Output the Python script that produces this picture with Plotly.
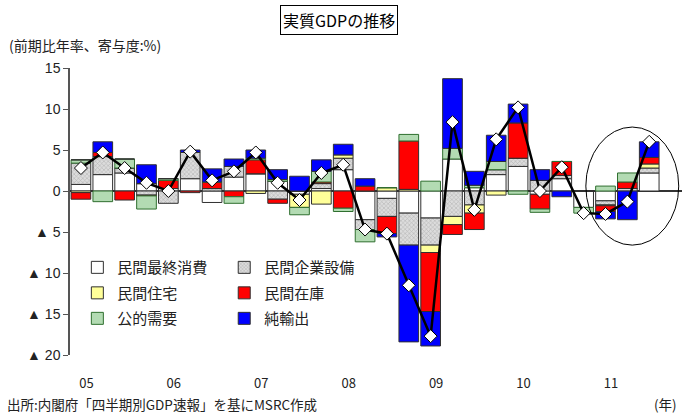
import plotly.graph_objects as go

quarters = list(range(27))  # 2005Q1 .. 2011Q3
year_ticks = [0, 4, 8, 12, 16, 20, 24]
year_labels = ["05", "06", "07", "08", "09", "10", "11"]

cons = [0.8, 2.0, 2.2, 0.9, 0.3, 1.5, -1.4, 1.7, 2.1, 1.2, -0.4, 0.3, 2.6, -3.5,
        -0.9, -2.7, -3.3, 3.9, 0.4, 2.0, 3.0, -0.4, 1.5, -2.0, -1.2, 0.3, 2.2]
capex = [2.6, 2.2, 0.6, -0.5, -1.5, 3.2, 0.3, 1.3, 0.0, -1.0, 0.0, 0.6, 1.4, -1.2,
         -2.2, -3.9, -3.3, -3.1, -1.7, 0.6, 1.0, 1.3, 0.4, 0.0, -0.5, 0.0, 0.6]
housing = [-0.2, 0.0, 0.0, 0.0, 0.0, 0.0, 0.0, 0.0, -0.3, 0.0, -1.6, -1.6, 0.4, 0.0,
           0.4, 0.2, -0.9, -1.0, -1.0, -0.5, 0.0, 0.0, 0.0, 0.0, -0.1, 0.0, 0.5]
inventory = [-0.8, 0.5, -1.1, -0.1, 1.0, -0.2, 0.8, -0.7, 1.7, -0.5, 0.0, 0.2, -2.1, 0.6,
             -2.1, 5.9, -7.2, -1.2, -2.0, 0.0, 4.3, -1.8, 1.7, 0.0, -0.7, 0.8, 0.8]
public = [0.4, -1.3, 1.1, -1.6, 0.2, 0.0, 0.0, -0.8, 0.2, 0.2, -0.9, 1.3, -0.4, -1.5,
          0.0, 0.8, 1.2, 1.3, 0.3, 1.0, -0.4, -0.4, 0.0, -0.7, 0.6, 1.1, 0.0]
net_exports = [0.0, 1.3, 0.0, 2.3, 0.0, 0.3, 1.6, 0.9, 1.0, 1.2, 1.8, 1.4, 1.3, 0.9,
               -0.4, -11.8, -4.2, 8.5, 1.7, 3.2, 2.3, 1.3, -0.7, 0.0, -0.9, -3.5, 1.9]
gdp = [2.8, 4.7, 2.8, 1.0, 0.0, 4.8, 1.3, 2.4, 4.7, 1.0, -1.1, 2.2, 3.2, -4.7,
       -5.2, -11.5, -17.7, 8.4, -2.3, 6.3, 10.2, 0.0, 2.9, -2.7, -2.8, -1.3, 6.0]

y_tickvals = [15, 10, 5, 0, -5, -10, -15, -20]
y_ticktext = ["15", "10", "5", "0", "▲ 5", "▲ 10", "▲ 15", "▲ 20"]

JP = "Noto Sans CJK JP"
outline = dict(color="#303030", width=1)

series = [
    ("民間最終消費", cons, dict(color="#ffffff", line=outline), "legend"),
    ("民間企業設備", capex, dict(color="#cfcfcf", line=outline,
                               pattern=dict(shape="x", fgcolor="#8c8c8c", bgcolor="#dcdcdc",
                                            size=3, solidity=0.35)), "legend2"),
    ("民間住宅", housing, dict(color="#ffff99", line=outline), "legend"),
    ("民間在庫", inventory, dict(color="#ff0000", line=outline), "legend2"),
    ("公的需要", public, dict(color="#b3dbb3", line=dict(color="#2f6f2f", width=1)), "legend"),
    ("純輸出", net_exports, dict(color="#0000ff", line=outline), "legend2"),
]

fig = go.Figure()
for name, vals, marker, lg in series:
    fig.add_trace(go.Bar(x=quarters, y=vals, name=name, marker=marker, legend=lg,
                         legendgroup=name))

fig.add_trace(go.Scatter(x=quarters, y=gdp, mode="lines+markers", showlegend=False,
                         line=dict(color="#000000", width=2.5),
                         marker=dict(symbol="diamond", size=10, color="#ffffff",
                                     line=dict(color="#000000", width=1))))

fig.update_layout(
    width=683, height=416,
    margin=dict(l=70, r=1, t=68, b=61),
    paper_bgcolor="#ffffff", plot_bgcolor="#ffffff",
    barmode="relative", bargap=0.1,
    font=dict(family=JP, size=12, color="#222222"),
    legend=dict(x=0.012, y=0.362, xanchor="left", yanchor="top",
                bgcolor="rgba(0,0,0,0)", font=dict(family=JP, size=15, color="#222222"),
                tracegroupgap=3, itemwidth=30),
    legend2=dict(x=0.252, y=0.362, xanchor="left", yanchor="top",
                 bgcolor="rgba(0,0,0,0)", font=dict(family=JP, size=15, color="#222222"),
                 tracegroupgap=3, itemwidth=30),
    xaxis=dict(range=[-0.5, 27.5], tickvals=[v + 0.25 for v in year_ticks],
               ticktext=year_labels, showline=False, ticks="", showgrid=False,
               zeroline=False, ticklabelstandoff=19,
               tickfont=dict(family=JP, size=13, color="#222222")),
    yaxis=dict(range=[-20, 15], tickvals=y_tickvals, ticktext=y_ticktext,
               showgrid=False, showline=True, linecolor="#555555", linewidth=1.5,
               ticks="outside", ticklen=5, tickcolor="#555555", tickwidth=1,
               zeroline=True, zerolinecolor="#333333", zerolinewidth=1.5,
               tickfont=dict(family="Liberation Sans, " + JP, size=14, color="#222222")),
)

fig.add_shape(type="circle", xref="x", yref="y", x0=23.1, x1=27.35, y0=-6.6, y1=7.8,
              line=dict(color="#000000", width=1))

fig.add_annotation(text="実質GDPの推移", xref="paper", yref="paper", x=0.44, y=1.168,
                   xanchor="center", yanchor="middle", showarrow=False,
                   font=dict(family=JP, size=16, color="#000000"),
                   bordercolor="#000000", borderwidth=1, borderpad=2, bgcolor="#ffffff")
fig.add_annotation(text="(前期比年率、寄与度:%)", xref="paper", yref="paper",
                   x=-0.103, y=1.081, xanchor="left", yanchor="middle", showarrow=False,
                   font=dict(family=JP, size=14, color="#222222"))
fig.add_annotation(text="出所:内閣府「四半期別GDP速報」を基にMSRC作成", xref="paper", yref="paper",
                   x=-0.106, y=-0.171, xanchor="left", yanchor="middle", showarrow=False,
                   font=dict(family=JP, size=13.5, color="#222222"))
fig.add_annotation(text="(年)", xref="paper", yref="paper",
                   x=0.995, y=-0.171, xanchor="right", yanchor="middle", showarrow=False,
                   font=dict(family=JP, size=13.5, color="#222222"))

fig.write_html("out.html", config={"displayModeBar": False},
               post_script="document.body.style.margin='0';")
